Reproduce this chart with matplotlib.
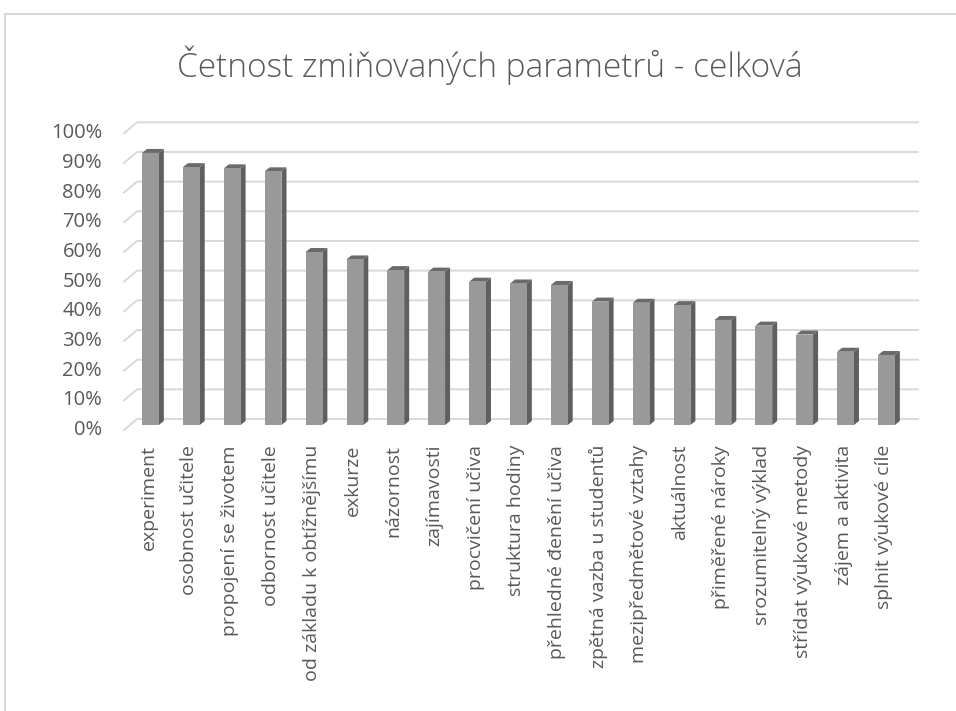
import numpy as np
import matplotlib
matplotlib.use("Agg")
import matplotlib.pyplot as plt
from matplotlib.patches import Polygon
from matplotlib.lines import Line2D

categories = [
    "experiment", "osobnost učitele", "propojení se životem", "odbornost učitele",
    "od základu k obtížnějšímu", "exkurze", "názornost", "zajímavosti",
    "procvičení učiva", "struktura hodiny", "přehledné đenění učiva",
    "zpětná vazba u studentů", "mezipředmětové vztahy", "aktuálnost",
    "přiměřené nároky", "srozumitelný výklad", "střídat výukové metody",
    "zájem a aktivita", "splnit výukové cíle",
]
values = [0.917, 0.869, 0.865, 0.855, 0.583, 0.558, 0.522, 0.517, 0.483, 0.477,
          0.472, 0.416, 0.412, 0.404, 0.354, 0.335, 0.305, 0.247, 0.236]
yticks = np.arange(0, 1.01, 0.1)
ytick_labels = [f"{int(round(t * 100))}%" for t in yticks]

W, H = 956, 711
fig = plt.figure(figsize=(W / 100, H / 100), dpi=100)
fig.patch.set_facecolor("white")

# front plane of the plot area in pixels
left_px, right_px, zero_px, top_px = 124, 905, 430, 133.3
ax = fig.add_axes([left_px / W, 1 - zero_px / H,
                   (right_px - left_px) / W, (zero_px - top_px) / H])
xmin, xmax = -0.5, 18.6
ax.set_xlim(xmin, xmax)
ax.set_ylim(0, 1)
ax.axis("off")

# pixel -> data unit conversions
px_x = (xmax - xmin) / (right_px - left_px)
px_y = 1 / (zero_px - top_px)

grid_col = "#d9d9d9"
text_col = "#595959"

# back wall gridlines with slanted floor edge
bx, by = 13 * px_x, 11 * px_y
for t in yticks:
    ax.plot([xmin, xmin + bx, xmax + bx], [t, t + by, t + by],
            color=grid_col, lw=1.4, clip_on=False, zorder=1)

# pseudo 3D columns
x = np.arange(len(categories))
ox, oy = 6 * px_x, 5 * px_y
dx, dy = 5 * px_x, 4 * px_y
bw = 0.41
ax.bar(x + ox, values, width=bw, bottom=oy, color="#999999",
       edgecolor="none", zorder=3, clip_on=False)
for xi, v in zip(x, values):
    x0 = xi + ox - bw / 2
    x1 = xi + ox + bw / 2
    side = Polygon([(x1, oy), (x1 + dx, oy + dy), (x1 + dx, v + oy + dy), (x1, v + oy)],
                   closed=True, facecolor="#5f5f5f", edgecolor="none", zorder=2, clip_on=False)
    top = Polygon([(x0, v + oy), (x1, v + oy), (x1 + dx, v + oy + dy), (x0 + dx, v + oy + dy)],
                  closed=True, facecolor="#6a6a6a", edgecolor="none", zorder=2, clip_on=False)
    ax.add_patch(side)
    ax.add_patch(top)

# tick labels
for t, lab in zip(yticks, ytick_labels):
    ax.text(xmin - 22 * px_x, t, lab, ha="right", va="center", fontsize=14.5,
            family="Open Sans", color=text_col)
for xi, lab in zip(x, categories):
    ax.text(xi + 4 * px_x, -15 * px_y, lab, rotation=90, ha="center", va="top",
            fontsize=14, family="Open Sans", color=text_col)

fig.text(490 / W, 1 - 65 / H, "Četnost zmiňovaných parametrů - celková",
         ha="center", va="center", fontsize=24, family="Open Sans",
         fontweight="light", color=text_col)

# chart frame (left and top edges visible)
fig.add_artist(Line2D([5 / W, 5 / W], [0, 1 - 14 / H], color=grid_col, lw=1.5))
fig.add_artist(Line2D([5 / W, 1], [1 - 14 / H, 1 - 14 / H], color=grid_col, lw=1.5))

fig.savefig("out.png", dpi=100)
